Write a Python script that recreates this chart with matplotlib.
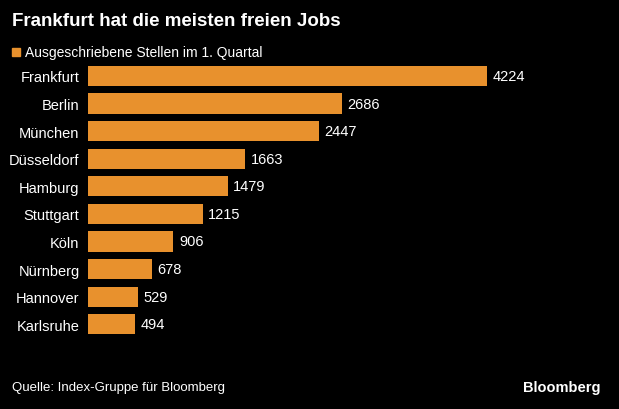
import matplotlib
matplotlib.use("Agg")
import matplotlib.pyplot as plt
from matplotlib.patches import Rectangle

cities = ["Frankfurt", "Berlin", "München", "Düsseldorf", "Hamburg", "Stuttgart", "Köln", "Nürnberg", "Hannover", "Karlsruhe"]
values = [4224, 2686, 2447, 1663, 1479, 1215, 906, 678, 529, 494]
color = "#E8912D"

plt.rcParams['font.family'] = ['Liberation Sans', 'DejaVu Sans']
fig = plt.figure(figsize=(6.19, 4.10), dpi=100, facecolor="black")
ax = fig.add_axes([0.142, 0.173, 0.824, 0.673], facecolor="black")
y = list(range(len(cities)))
ax.barh(y, values, height=0.73, color=color)
for yi, v in zip(y, values):
    ax.text(v + 60, yi, str(v), color="white", va="center", ha="left", fontsize=10.5)
ax.set_ylim(len(cities) - 0.5, -0.5)
ax.set_xlim(0, 5400)
ax.set_yticks(y)
ax.set_yticklabels(cities, color="white", fontsize=10.5)
ax.tick_params(axis="y", length=0, pad=6)
ax.set_xticks([])
for s in ax.spines.values():
    s.set_visible(False)

fig.text(12/619, 1-22/410, "Frankfurt hat die meisten freien Jobs", color="white", fontsize=13.5, fontweight="bold", va="center")
fig.patches.append(Rectangle((12/619, 1-57/410), 8/619, 8/410, transform=fig.transFigure, color=color))
fig.text(25/619, 1-53/410, "Ausgeschriebene Stellen im 1. Quartal", color="white", fontsize=10, va="center")
fig.text(12/619, 1-388/410, "Quelle: Index-Gruppe für Bloomberg", color="white", fontsize=9.5, va="center")
fig.text(601/619, 1-388/410, "Bloomberg", color="white", fontsize=10.5, fontweight="bold", va="center", ha="right")
fig.savefig("out.png", dpi=100, facecolor="black")
